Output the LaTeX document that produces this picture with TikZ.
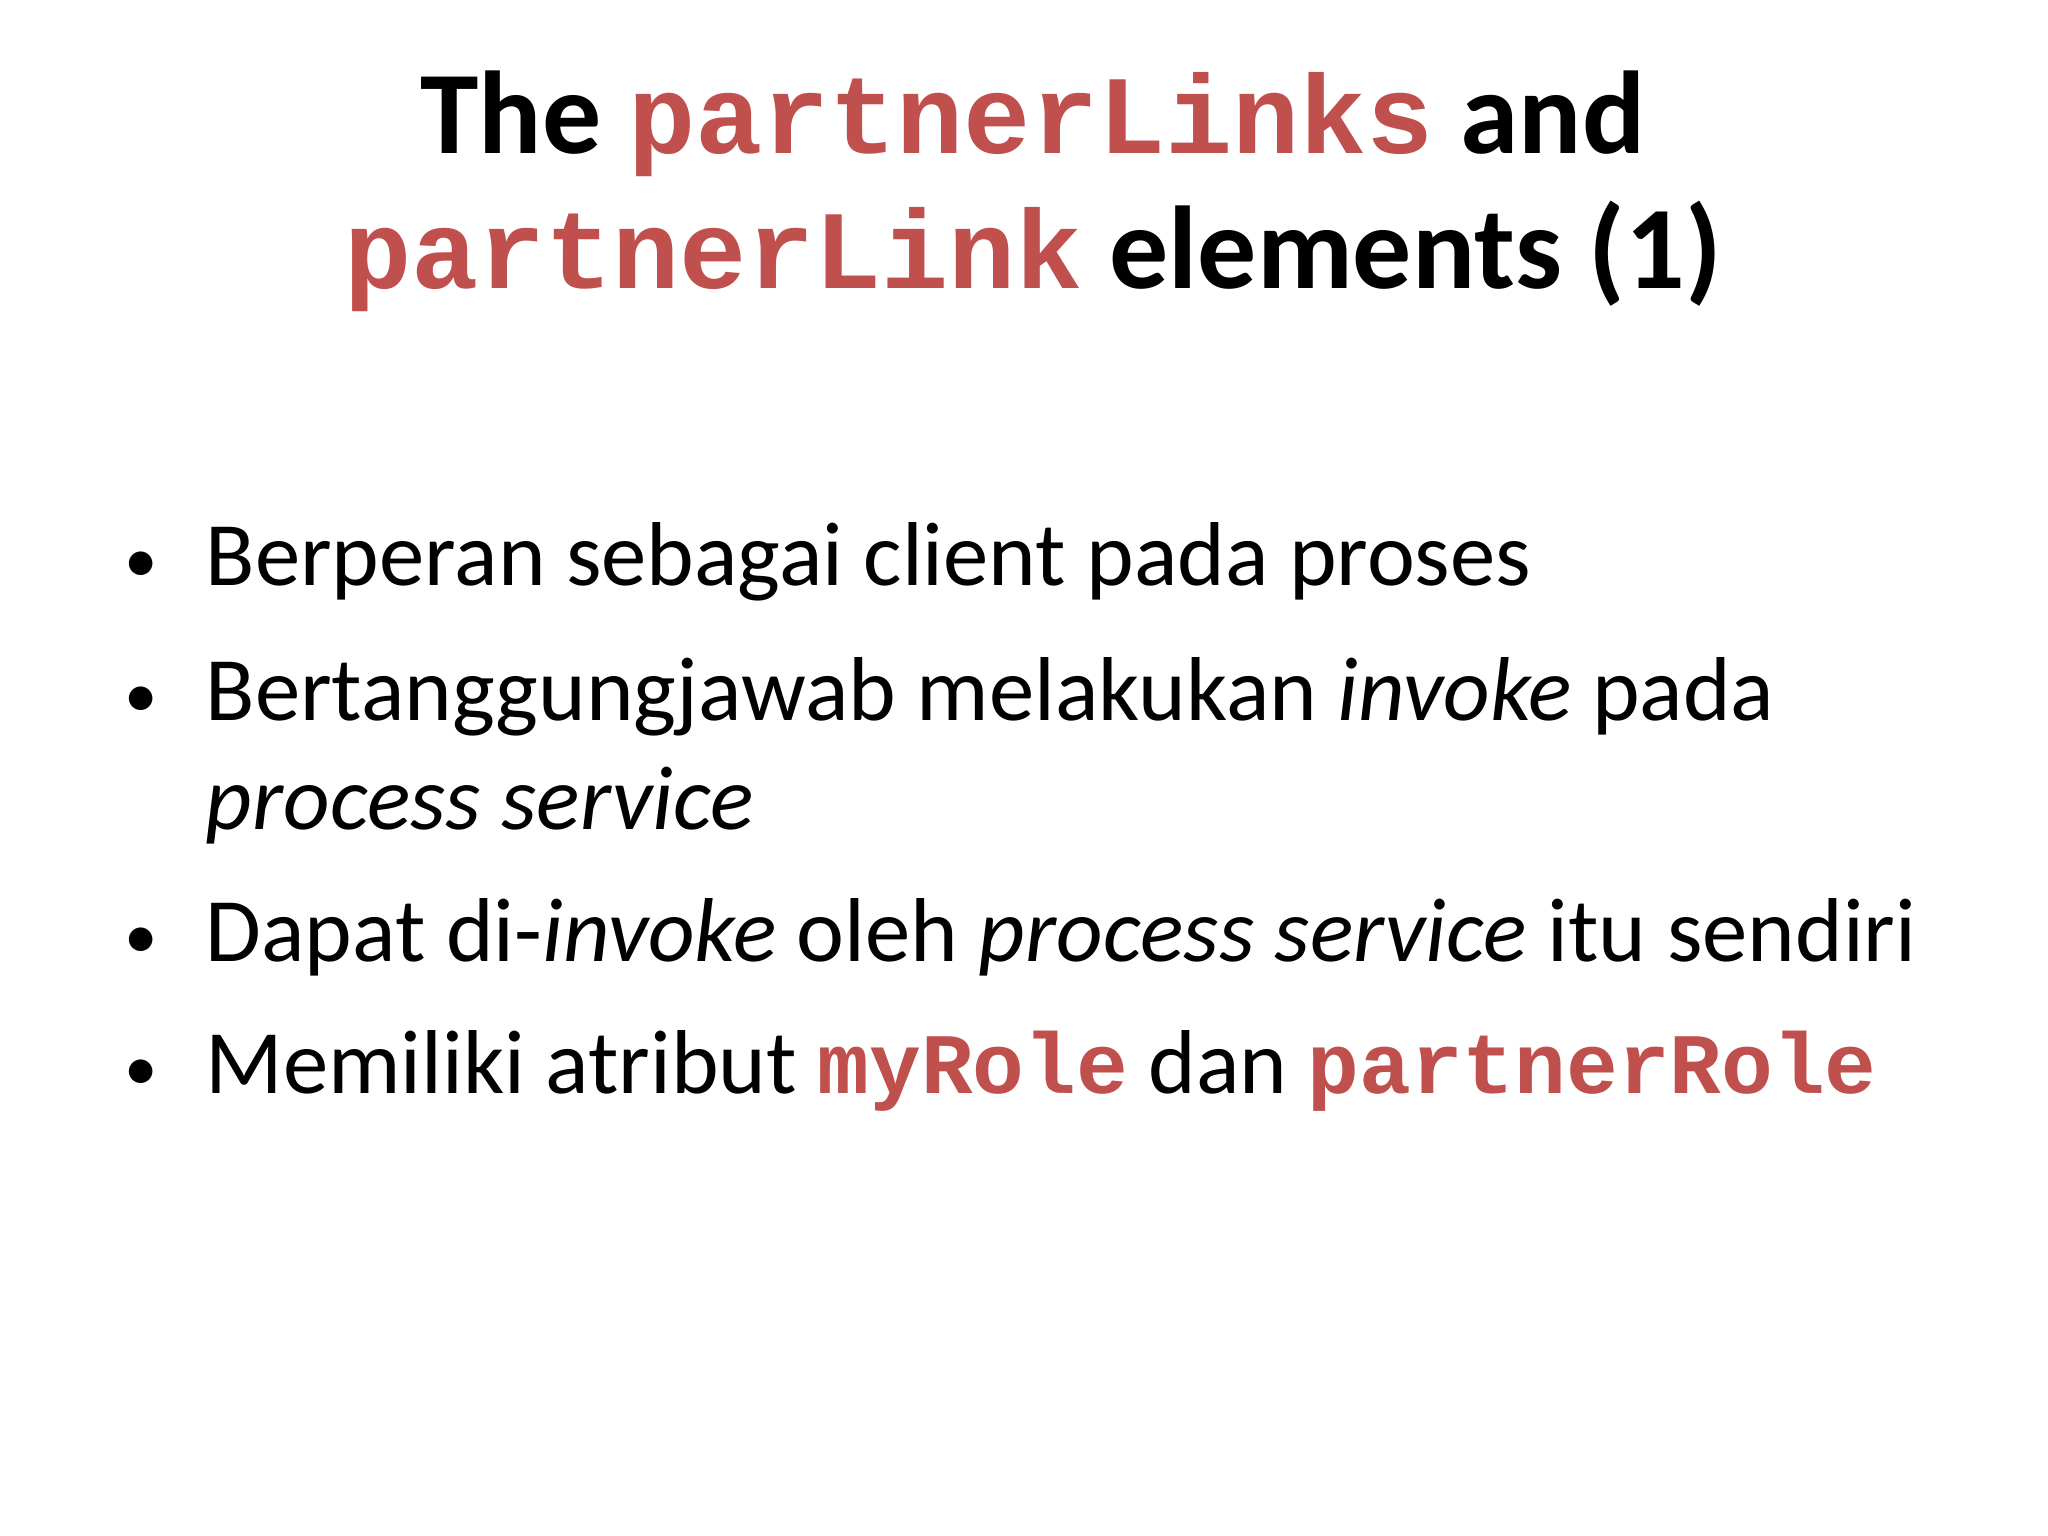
\documentclass[tikz,border=0pt]{standalone}
\usepackage{fontspec}
\setmainfont{Carlito}
\setmonofont[Scale=0.95]{Liberation Mono}
\definecolor{codered}{HTML}{C0504D}
\newcommand{\cd}[1]{{\ttfamily\bfseries\color{codered}#1}}
\begin{document}
\begin{tikzpicture}[x=0.01cm,y=-0.01cm,
  title/.style={anchor=base,inner sep=0pt,font=\fontsize{33.5pt}{40pt}\selectfont\bfseries},
  body/.style={anchor=base west,inner sep=0pt,font=\fontsize{25.8pt}{32pt}\selectfont},
  bul/.style={anchor=base,inner sep=0pt,font=\fontsize{19pt}{24pt}\selectfont}]
\useasboundingbox (0,0) rectangle (2048,1536);
\node[title] (t1) at (1033,153) {The \cd{partnerLinks} and};
\node[title] (t2) at (1033,288) {\cd{partnerLink} elements (1)};
\node[bul] (b1) at (141,582) {•};
\node[body] (l1) at (205,585) {Berperan sebagai client pada proses};
\node[bul] (b2) at (141,717) {•};
\node[body] (l2) at (205,720) {Bertanggungjawab melakukan \textit{invoke} pada};
\node[body] (l2b) at (205,829) {\textit{process service}};
\node[bul] (b3) at (141,958) {•};
\node[body] (l3) at (205,961) {Dapat di-\textit{invoke} oleh \textit{process service} itu sendiri};
\node[bul] (b4) at (141,1090) {•};
\node[body] (l4) at (205,1093) {Memiliki atribut \cd{myRole} dan \cd{partnerRole}};
\end{tikzpicture}
\end{document}
